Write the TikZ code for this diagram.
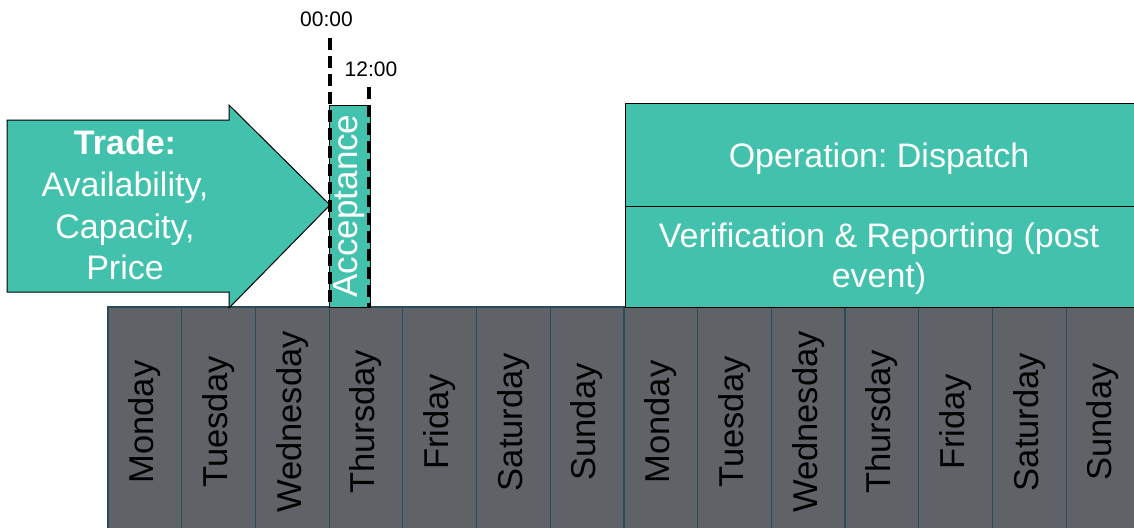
\documentclass[tikz,border=0pt]{standalone}
\usepackage{fontspec}
\setmainfont{Liberation Sans}
\frenchspacing
\definecolor{teal1}{HTML}{42C2AC}
\definecolor{daygrey}{HTML}{5F6367}
\definecolor{dayline}{HTML}{2B4A5C}
\tikzset{
  daycol/.style={draw=dayline, line width=1.2pt, fill=daygrey, rotate=90,
    minimum width=230pt, minimum height=73.7pt, inner sep=0pt,
    font=\fontsize{34.5}{40}\selectfont, text=black},
  tealbox/.style={draw=black, line width=1pt, fill=teal1, text=white, inner sep=0pt,
    font=\fontsize{35}{40}\selectfont},
  bigtext/.style={text=white, font=\fontsize{34}{40}\selectfont, align=center, inner sep=0pt},
  timeline/.style={line width=4pt, dash pattern=on 12pt off 6pt},
  timelabel/.style={font=\fontsize{21}{24}\selectfont, inner sep=0pt, anchor=base}
}
\begin{document}
\begin{tikzpicture}[x=1pt,y=-1pt]
\useasboundingbox (0,0) rectangle (1134,527);
\clip (0,0) rectangle (1134,527);
\fill[white] (0,0) rectangle (1134,527);
% day columns
\foreach \d [count=\i from 0] in {Monday,Tuesday,Wednesday,Thursday,Friday,Saturday,Sunday,Monday,Tuesday,Wednesday,Thursday,Friday,Saturday,Sunday}{
  \node[daycol] (day\i) at ({108+73.7*\i+36.85}, 422) {\d};
}
% trade arrow
\draw[line width=1pt, fill=teal1] (7,120) -- (229,120) -- (229,105) -- (330,205)
  -- (229,308) -- (229,292) -- (7,292) -- cycle;
\node[bigtext, align=center] (trade) at (125,205)
  {\textbf{Trade:}\\[1.7pt]Availability,\\[1.7pt]Capacity,\\[1.7pt]Price};
% acceptance
\node[tealbox, rotate=90, minimum width=202pt, minimum height=41pt] (acc) at (349.5,206) {Acceptance};
\coordinate (t0) at (330,38);
\coordinate (t0b) at (330,307);
\coordinate (t1) at (369,87);
\coordinate (t1b) at (369,307);
\draw[timeline] (t0) -- (t0b);
\draw[timeline] (t1) -- (t1b);
\node[timelabel] (l0) at (326.5,27) {00:00};
\node[timelabel] (l1) at (371,77) {12:00};
% operation boxes
\node[tealbox, anchor=north west, minimum width=520pt, minimum height=103pt] (op) at (625,103) {};
\node[tealbox, anchor=north west, minimum width=520pt, minimum height=101pt] (ver) at (625,206) {};
\node[bigtext, anchor=base] (optext) at (879,167) {Operation: Dispatch};
\node[bigtext, anchor=base] (vertext) at (879,247) {Verification \& Reporting (post};
\node[bigtext, anchor=base] (vertext2) at (879,287) {event)};
\end{tikzpicture}
\end{document}
